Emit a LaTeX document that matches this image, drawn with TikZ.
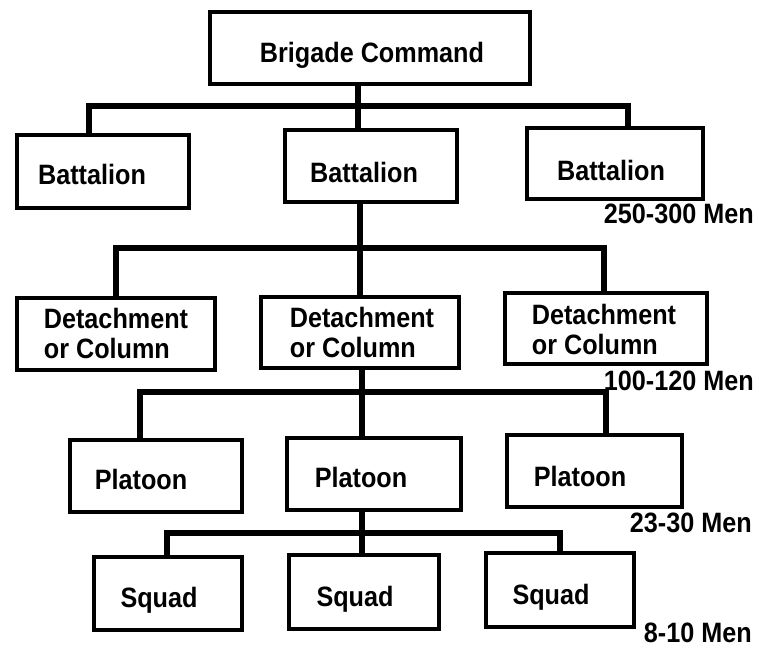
\documentclass[tikz,border=0pt]{standalone}
\usepackage{fontspec}
\setmainfont{Liberation Sans}[FakeStretch=0.9]
\begin{document}
\begin{tikzpicture}[x=1pt,y=-1pt,
  box/.style={draw, line width=4pt, inner sep=0pt},
  lbl/.style={font=\fontsize{28}{30}\selectfont\bfseries, inner sep=0pt, text height=20pt, text depth=0pt},
  dlbl/.style={font=\fontsize{28}{30}\selectfont\bfseries, inner sep=0pt, align=left},
  men/.style={lbl, anchor=east},
  conn/.style={line width=6pt, line join=miter, line cap=butt}]
\useasboundingbox (0,0) rectangle (759,649);

% boxes
\node[box, minimum width=320pt, minimum height=72pt] (brig) at (370,48) {};
\node[box, minimum width=172pt, minimum height=73pt] (bat1) at (103,171.5) {};
\node[box, minimum width=172pt, minimum height=72pt] (bat2) at (371,166) {};
\node[box, minimum width=176pt, minimum height=71pt] (bat3) at (615,163.5) {};
\node[box, minimum width=198pt, minimum height=72pt] (det1) at (116,334) {};
\node[box, minimum width=198pt, minimum height=71pt] (det2) at (360,332.5) {};
\node[box, minimum width=202pt, minimum height=71pt] (det3) at (606,328.5) {};
\node[box, minimum width=172pt, minimum height=72pt] (pl1) at (156,476) {};
\node[box, minimum width=174pt, minimum height=72pt] (pl2) at (374,474) {};
\node[box, minimum width=175pt, minimum height=72pt] (pl3) at (594.5,471) {};
\node[box, minimum width=148pt, minimum height=73pt] (sq1) at (168,593.5) {};
\node[box, minimum width=150pt, minimum height=74pt] (sq2) at (364,592) {};
\node[box, minimum width=148pt, minimum height=74pt] (sq3) at (560,590) {};

% labels
\node[lbl] (brigt) at (372,52) {Brigade Command};
\node[lbl] (bat1t) at (92,174) {Battalion};
\node[lbl] (bat2t) at (364,172) {Battalion};
\node[lbl] (bat3t) at (611,170) {Battalion};
\node[dlbl] (det1t) at (116,333) {Detachment\\or Column};
\node[dlbl] (det2t) at (362,332) {Detachment\\or Column};
\node[dlbl] (det3t) at (604,329) {Detachment\\or Column};
\node[lbl] (pl1t) at (141,479) {Platoon};
\node[lbl] (pl2t) at (361,477) {Platoon};
\node[lbl] (pl3t) at (580,476) {Platoon};
\node[lbl] (sq1t) at (159,597) {Squad};
\node[lbl] (sq2t) at (355,596) {Squad};
\node[lbl] (sq3t) at (551,594) {Squad};

\node[men] (m1) at (754,213) {250-300 Men};
\node[men] (m2) at (754,380) {100-120 Men};
\node[men] (m3) at (752,522) {23-30 Men};
\node[men] (m4) at (752,632) {8-10 Men};

% connectors
\coordinate (j1) at (358,106);
\coordinate (j1l) at (89,106);
\coordinate (j1r) at (628,106);
\draw[conn] (brig.south -| j1) -- (bat2.north -| j1);
\draw[conn] (bat1.north -| j1l) -- (j1l) -- (j1r) -- (bat3.north -| j1r);

\coordinate (j2) at (360,248);
\coordinate (j2l) at (116,248);
\coordinate (j2r) at (604,248);
\draw[conn] (bat2.south -| j2) -- (det2.north -| j2);
\draw[conn] (det1.north -| j2l) -- (j2l) -- (j2r) -- (det3.north -| j2r);

\coordinate (j3) at (362,392);
\coordinate (j3l) at (140,392);
\coordinate (j3r) at (606,392);
\draw[conn] (det2.south -| j3) -- (pl2.north -| j3);
\draw[conn] (pl1.north -| j3l) -- (j3l) -- (j3r) -- (pl3.north -| j3r);

\coordinate (j4) at (362,533);
\coordinate (j4l) at (167,533);
\coordinate (j4r) at (560,533);
\draw[conn] (pl2.south -| j4) -- (sq2.north -| j4);
\draw[conn] (sq1.north -| j4l) -- (j4l) -- (j4r) -- (sq3.north -| j4r);
\end{tikzpicture}
\end{document}
